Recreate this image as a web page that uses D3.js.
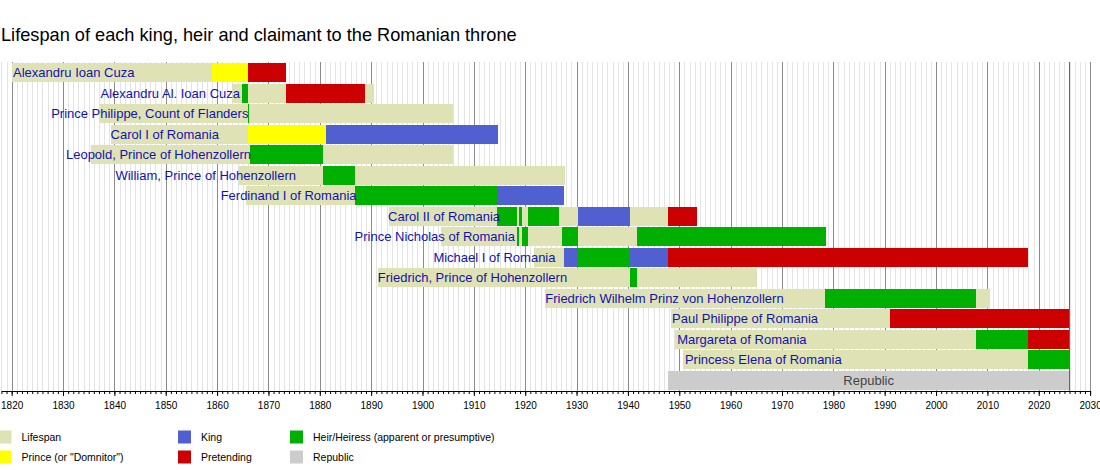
<!DOCTYPE html>
<html>
<head>
<meta charset="utf-8">
<script src="https://cdn.jsdelivr.net/npm/d3@7"></script>
<style>
  body { margin: 0; background: #fff; }
  svg { font-family: "Liberation Sans", Arial, sans-serif; }
</style>
</head>
<body>
<div id="chart"></div>
<script>
// values (decimal years)
const NOW = 2025.95;

const names = [
  "Alexandru Ioan Cuza",
  "Alexandru Al. Ioan Cuza",
  "Prince Philippe, Count of Flanders",
  "Carol I of Romania",
  "Leopold, Prince of Hohenzollern",
  "William, Prince of Hohenzollern",
  "Ferdinand I of Romania",
  "Carol II of Romania",
  "Prince Nicholas of Romania",
  "Michael I of Romania",
  "Friedrich, Prince of Hohenzollern",
  "Friedrich Wilhelm Prinz von Hohenzollern",
  "Paul Philippe of Romania",
  "Margareta of Romania",
  "Princess Elena of Romania"
];

const born = [1820.0, 1863.0, 1837.2, 1839.25, 1835.45, 1864.2, 1865.55, 1893.5,
              1903.6, 1921.8, 1891.3, 1923.9, 1948.4, 1949.2, 1950.8];
const died = [1873.5, 1890.6, 1905.87, 1914.7, 1906.0, 1927.8, 1927.55, 1953.5,
              1978.5, 2017.9, 1965.1, 2010.6, NOW, NOW, NOW];

// [from, till, kind] for every row
const periods = [
  [[1859.05, 1866.1, "prince"], [1866.1, 1873.5, "pretend"]],
  [[1864.85, 1866.1, "heir"], [1873.4, 1888.8, "pretend"]],
  [[1866.1, 1866.3, "heir"]],
  [[1866.1, 1881.2, "prince"], [1881.2, 1914.7, "king"]],
  [[1866.4, 1880.6, "heir"]],
  [[1880.6, 1886.86, "heir"]],
  [[1886.86, 1914.6, "heir"], [1914.6, 1927.55, "king"]],
  [[1914.6, 1918.36, "heir"], [1918.86, 1919.4, "heir"], [1920.57, 1926.6, "heir"],
   [1930.25, 1940.4, "king"], [1947.8, 1953.5, "pretend"]],
  [[1918.47, 1918.8, "heir"], [1919.4, 1920.5, "heir"], [1927.1, 1930.25, "heir"],
   [1941.8, 1978.5, "heir"]],
  [[1927.55, 1930.25, "king"], [1930.25, 1940.4, "heir"], [1940.4, 1947.8, "king"],
   [1947.8, 2017.9, "pretend"]],
  [[1940.4, 1941.7, "heir"]],
  [[1978.45, 2007.7, "heir"]],
  [[1991.1, NOW, "pretend"]],
  [[2007.7, 2017.9, "heir"], [2017.9, NOW, "pretend"]],
  [[2017.9, NOW, "heir"]]
];

const labelAt = [1820.26, 1864.47, 1866.1, 1839.25, 1866.6, 1875.37, 1887.15, 1915.1,
                 1918.0, 1925.9, 1891.3, 1923.9, 1948.6, 1949.6, 1951.1];
const labelAnchor = ["start", "end", "end", "start", "end", "end", "end", "end",
                     "end", "end", "start", "start", "start", "start", "start"];

const republic = [1947.8, NOW];
const republicLabel = "Republic";

const tickYears = d3.range(1820, 2031, 10);
const minorYears = d3.range(1818, 2031, 1);

const legendKeys = ["lifespan", "prince", "king", "pretend", "heir", "republic"];
const legendLabels = ["Lifespan", "Prince (or \"Domnitor\")", "King", "Pretending",
                      "Heir/Heiress (apparent or presumptive)", "Republic"];

const title = "Lifespan of each king, heir and claimant to the Romanian throne";

const colors = {
  lifespan: "#dfe2b5",
  prince: "#ffff00",
  king: "#5060d0",
  pretend: "#cc0000",
  heir: "#00b000",
  republic: "#cccccc"
};

const W = 1100, H = 470;
const plotTop = 62, plotBottom = 391;

const svg = d3.select("#chart").append("svg")
    .attr("width", W)
    .attr("height", H);

const x = d3.scaleLinear()
    .domain([1818, 2030])
    .range([1.4, 1090.1]);

const rows = names.concat([republicLabel]);
const y = d3.scaleBand()
    .domain(rows)
    .range([62.5, 390.5])
    .paddingInner(0.07)
    .paddingOuter(0.035);

svg.append("text")
    .attr("x", 1)
    .attr("y", 41)
    .attr("font-size", 18.2)
    .attr("fill", "#000")
    .text(title);

// year grid
const grid = svg.append("g").attr("shape-rendering", "crispEdges");
grid.selectAll(".minor")
    .data(minorYears.filter(d => d % 10 !== 0))
    .enter()
    .append("line")
    .attr("x1", d => Math.round(x(d)) + 0.5)
    .attr("x2", d => Math.round(x(d)) + 0.5)
    .attr("y1", plotTop)
    .attr("y2", plotBottom)
    .attr("stroke", "#e3e3e3");
grid.selectAll(".major")
    .data(tickYears)
    .enter()
    .append("line")
    .attr("x1", d => Math.round(x(d)) + 0.5)
    .attr("x2", d => Math.round(x(d)) + 0.5)
    .attr("y1", plotTop)
    .attr("y2", plotBottom)
    .attr("stroke", "#8c8c8c");

// lifespans
const bars = svg.append("g").attr("shape-rendering", "crispEdges");
bars.selectAll(".life")
    .data(names)
    .enter()
    .append("rect")
    .attr("x", (d, i) => x(born[i]))
    .attr("y", d => y(d))
    .attr("width", (d, i) => x(died[i]) - x(born[i]))
    .attr("height", y.bandwidth())
    .attr("fill", colors.lifespan);

// offices / claims
const spans = [];
periods.forEach((list, i) => list.forEach(p => spans.push({ row: names[i], from: p[0], till: p[1], kind: p[2] })));

bars.selectAll(".span")
    .data(spans)
    .enter()
    .append("rect")
    .attr("x", d => x(d.from))
    .attr("y", d => y(d.row))
    .attr("width", d => Math.max(1, x(d.till) - x(d.from)))
    .attr("height", y.bandwidth())
    .attr("fill", d => colors[d.kind]);

bars.append("rect")
    .attr("x", x(republic[0]))
    .attr("y", y(republicLabel))
    .attr("width", x(republic[1]) - x(republic[0]))
    .attr("height", y.bandwidth())
    .attr("fill", colors.republic);

// today line
svg.append("line")
    .attr("x1", Math.round(x(NOW)) + 0.5)
    .attr("x2", Math.round(x(NOW)) + 0.5)
    .attr("y1", plotTop)
    .attr("y2", plotBottom)
    .attr("stroke", colors.heir)
    .attr("shape-rendering", "crispEdges");

// names
svg.append("g").selectAll("text")
    .data(names)
    .enter()
    .append("text")
    .attr("x", (d, i) => x(labelAt[i]))
    .attr("y", d => y(d) + y.bandwidth() / 2)
    .attr("dy", "0.36em")
    .attr("text-anchor", (d, i) => labelAnchor[i])
    .attr("font-size", 13)
    .attr("fill", "#1212b0")
    .text(d => d);

svg.append("text")
    .attr("x", x((republic[0] + republic[1]) / 2))
    .attr("y", y(republicLabel) + y.bandwidth() / 2)
    .attr("dy", "0.36em")
    .attr("text-anchor", "middle")
    .attr("font-size", 13)
    .attr("fill", "#444")
    .text(republicLabel);

// axis: yearly minor ticks and labelled decades
svg.append("g")
    .attr("transform", `translate(0,${plotBottom})`)
    .call(d3.axisBottom(x).tickValues(minorYears).tickSize(3).tickSizeOuter(0).tickFormat(""))
    .call(g => g.selectAll("line").attr("stroke", "#000"))
    .call(g => g.select(".domain").attr("stroke", "#000"));

svg.append("g")
    .attr("transform", `translate(0,${plotBottom})`)
    .call(d3.axisBottom(x).tickValues(tickYears).tickSize(5).tickSizeOuter(0).tickPadding(6).tickFormat(d3.format("d")))
    .call(g => g.select(".domain").remove())
    .call(g => g.selectAll("line").attr("stroke", "#000"))
    .call(g => g.selectAll("text")
        .attr("font-family", "\"Liberation Sans\", Arial, sans-serif")
        .attr("font-size", 10)
        .attr("fill", "#000"));

// legend
const legendCol = [-1.5, 178, 290];
const legendRow = [430.5, 450.5];
const legend = svg.append("g");
legendKeys.forEach((k, i) => {
    const cx = legendCol[Math.floor(i / 2)];
    const cy = legendRow[i % 2];
    legend.append("rect")
        .attr("x", cx)
        .attr("y", cy)
        .attr("width", 13)
        .attr("height", 13)
        .attr("fill", colors[k]);
    legend.append("text")
        .attr("x", cx + 23)
        .attr("y", cy + 6.5)
        .attr("dy", "0.36em")
        .attr("font-size", 10.5)
        .attr("fill", "#000")
        .text(legendLabels[i]);
});
</script>
</body>
</html>
